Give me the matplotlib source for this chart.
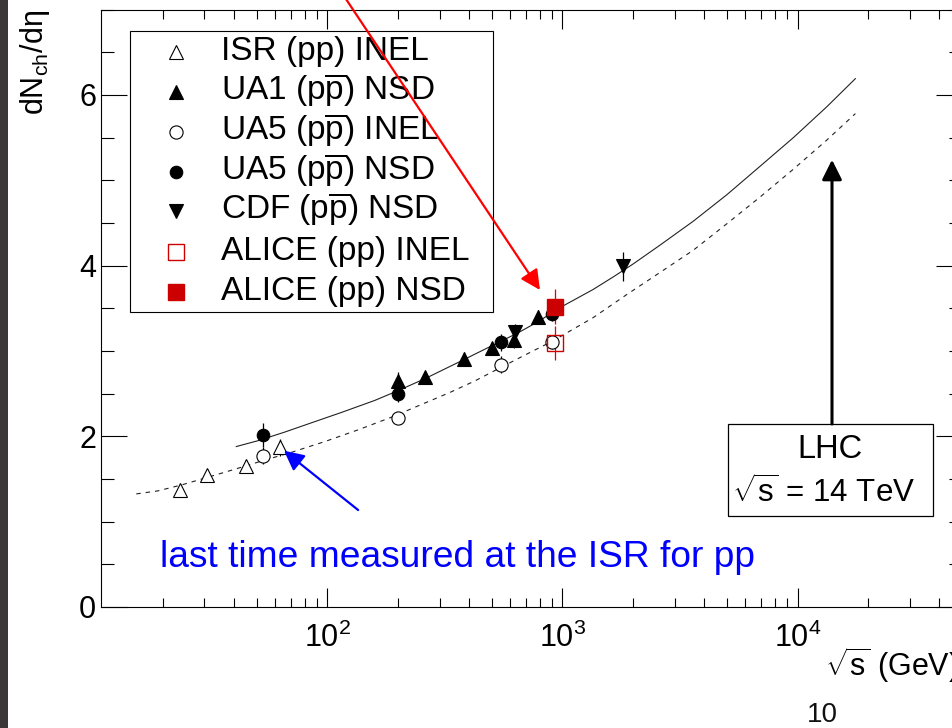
import matplotlib
matplotlib.use("Agg")
import matplotlib.pyplot as plt
from matplotlib.lines import Line2D
from matplotlib.patches import Rectangle
from matplotlib.ticker import LogLocator, MultipleLocator, FixedLocator, NullFormatter, LogFormatterMathtext

plt.rcParams['font.family'] = ['Liberation Sans', 'DejaVu Sans']
plt.rcParams['mathtext.fontset'] = 'custom'
plt.rcParams['mathtext.rm'] = 'Liberation Sans'
plt.rcParams['mathtext.it'] = 'Liberation Sans:italic'
plt.rcParams['mathtext.bf'] = 'Liberation Sans:bold'

# ---------------- data ----------------
isr_x = [23.6, 30.8, 45.2, 62.8]
isr_y = [1.37, 1.55, 1.65, 1.87]
isr_e = [0.07, 0.06, 0.07, 0.10]

ua1_x = [200, 260, 380, 500, 620, 790]
ua1_y = [2.65, 2.69, 2.91, 3.03, 3.13, 3.40]
ua1_e = [0.10, 0.08, 0.08, 0.08, 0.10, 0.08]

ua5_inel_x = [53, 200, 546, 900]
ua5_inel_y = [1.77, 2.22, 2.84, 3.10]
ua5_inel_e = [0.10, 0.06, 0.10, 0.08]

ua5_nsd_x = [53, 200, 546, 900]
ua5_nsd_y = [2.01, 2.50, 3.10, 3.43]
ua5_nsd_e = [0.14, 0.10, 0.10, 0.08]

cdf_x = [630, 1800]
cdf_y = [3.22, 3.99]
cdf_e = [0.10, 0.17]

alice_inel_x = [930]
alice_inel_y = [3.09]
alice_inel_e = [0.20]

alice_nsd_x = [930]
alice_nsd_y = [3.52]
alice_nsd_e = [0.21]

# NSD curve (solid)
nsd_curve_x = [41, 51, 66, 86, 115, 159, 200, 260, 360, 500, 650, 790, 930, 1010,
               1350, 1650, 2000, 2600, 3600, 5000, 6900, 9600, 13300, 17600]
nsd_curve_y = [1.88, 1.95, 2.05, 2.16, 2.28, 2.42, 2.535, 2.675, 2.865, 3.06, 3.215, 3.345, 3.47, 3.53,
               3.72, 3.87, 4.02, 4.24, 4.52, 4.83, 5.16, 5.50, 5.86, 6.19]
# INEL curve (dashed)
inel_curve_x = [15.4, 19, 24, 31, 40, 54, 70, 98, 135, 188, 260, 330, 425, 550, 690, 900,
                1350, 1875, 2600, 3600, 5000, 6900, 9600, 13300, 17600]
inel_curve_y = [1.325, 1.36, 1.43, 1.52, 1.61, 1.72, 1.81, 1.94, 2.075, 2.225, 2.39, 2.51, 2.65, 2.81, 2.95, 3.11,
                3.39, 3.66, 3.92, 4.18, 4.49, 4.80, 5.13, 5.47, 5.78]

legend_labels = ['ISR (pp) INEL',
                 r'UA1 (p$\overline{\mathrm{p}}$) NSD',
                 r'UA5 (p$\overline{\mathrm{p}}$) INEL',
                 r'UA5 (p$\overline{\mathrm{p}}$) NSD',
                 r'CDF (p$\overline{\mathrm{p}}$) NSD',
                 'ALICE (pp) INEL',
                 'ALICE (pp) NSD']

y_ticks = [0, 2, 4, 6]
lhc_energy = 14000

# ---------------- figure ----------------
W, H = 953, 728
fig = plt.figure(figsize=(W / 100, H / 100), dpi=100)
fig.patch.set_facecolor('white')


def fx(px):
    return px / W


def fy(py):
    return 1 - py / H


FT = fig.transFigure

# dark strip on the left (slide background)
fig.add_artist(Rectangle((0, 0), fx(8.5), 1, transform=FT,
                         facecolor='#3b3738', edgecolor='none', zorder=0))

ax = fig.add_axes([fx(101), fy(607), (962 - 101) / W, (607 - 9.5) / H])
ax.set_xscale('log')
ax.set_xlim(10.9, 5.0e4)
ax.set_ylim(0, 7)

RED = '#cc0000'
styles = [
    dict(marker='^', mfc='white', mec='black', ms=10.5, mew=0.8),
    dict(marker='^', mfc='black', mec='black', ms=9.5, mew=0.8),
    dict(marker='o', mfc='white', mec='black', ms=9.5, mew=0.8),
    dict(marker='o', mfc='black', mec='black', ms=9, mew=0.8),
    dict(marker='v', mfc='black', mec='black', ms=10, mew=0.8),
    dict(marker='s', mfc='none', mec=RED, ms=11.5, mew=1.0),
    dict(marker='s', mfc=RED, mec=RED, ms=11.5, mew=1.0),
]

# curves
ax.plot(nsd_curve_x, nsd_curve_y, color='#222222', lw=0.8, zorder=2)
ax.plot(inel_curve_x, inel_curve_y, color='#222222', lw=0.8, ls=(0, (4, 4.5)), zorder=2)

series = [
    (isr_x, isr_y, isr_e, 'black'),
    (ua1_x, ua1_y, ua1_e, 'black'),
    (ua5_inel_x, ua5_inel_y, ua5_inel_e, 'black'),
    (ua5_nsd_x, ua5_nsd_y, ua5_nsd_e, 'black'),
    (cdf_x, cdf_y, cdf_e, 'black'),
    (alice_inel_x, alice_inel_y, alice_inel_e, '#e00000'),
    (alice_nsd_x, alice_nsd_y, alice_nsd_e, '#e00000'),
]
for (xs, ys, es, ec), st in zip(series, styles):
    ax.errorbar(xs, ys, yerr=es, fmt='none', ecolor=ec, elinewidth=0.9, capsize=0, zorder=2.5)
    ax.plot(xs, ys, ls='none', zorder=3, **st)

# axes styling
for sp in ax.spines.values():
    sp.set_linewidth(0.8)
    sp.set_color('black')
ax.xaxis.set_major_locator(LogLocator(base=10, numticks=10))
ax.xaxis.set_minor_locator(LogLocator(base=10, subs=range(2, 10), numticks=50))
ax.xaxis.set_major_formatter(LogFormatterMathtext())
ax.xaxis.set_minor_formatter(NullFormatter())
ax.yaxis.set_major_locator(FixedLocator(y_ticks))
ax.yaxis.set_minor_locator(MultipleLocator(0.5))
ax.tick_params(which='both', direction='in', top=True, right=True, width=0.8, color='black')
ax.tick_params(axis='x', which='major', length=13.7, pad=11.5, labelsize=22)
ax.tick_params(axis='x', which='minor', length=6.5)
ax.tick_params(axis='y', which='major', length=18.7, pad=3.5, labelsize=22)
ax.tick_params(axis='y', which='minor', length=9.4)

# axis titles (the reference slide crops the closing parenthesis at the edge)
fig.text(fx(825), fy(676), r'$\sqrt{\mathrm{s}}$ (GeV)', fontsize=22, ha='left', va='baseline')
fig.text(fx(35), fy(10), r'dN$_{\mathrm{ch}}$/dη', fontsize=22, rotation=90,
         ha='center', va='top')

# legend (drawn by hand inside the axes so the red arrow can pass over it)
ax.add_patch(Rectangle((fx(130), fy(312)), (493 - 130) / W, (312 - 31) / H,
                       transform=FT, facecolor='white', edgecolor='black',
                       lw=0.8, zorder=4, clip_on=False))
rows = [51.7, 91.7, 131.7, 172.0, 211.0, 251.7, 291.7]
for lab, st, ry in zip(legend_labels, styles, rows):
    ax.add_line(Line2D([fx(176)], [fy(ry)], transform=FT, ls='none',
                       zorder=5, clip_on=False, **st))
    ax.text(fx(221.5), fy(ry + 8), lab, transform=FT, fontsize=24, ha='left',
            va='baseline', zorder=5, clip_on=False)

# LHC box + arrow
ax.add_patch(Rectangle((fx(727.5), fy(516)), (933.3 - 727.5) / W, (516 - 424) / H,
                       transform=FT, facecolor='white', edgecolor='black',
                       lw=0.9, zorder=4, clip_on=False))
ax.text(fx(830), fy(458.3), 'LHC', transform=FT, fontsize=23.5, ha='center',
        va='baseline', zorder=5)
ax.text(fx(732), fy(503.3), r'$\sqrt{\mathrm{s}}$ = 14 TeV', transform=FT, fontsize=22.5,
        ha='left', va='baseline', zorder=5)
ax.annotate('', xy=(lhc_energy, 5.24), xytext=(lhc_energy, 2.144),
            arrowprops=dict(arrowstyle='-|>,head_length=0.4,head_width=0.2',
                            mutation_scale=30, lw=2.2, color='black',
                            shrinkA=0, shrinkB=0), zorder=6)

# red arrow pointing to ALICE (drawn over the legend)
ax.annotate('', xy=(802, 3.714), xytext=(108.7, 7.3),
            arrowprops=dict(arrowstyle='-|>,head_length=0.4,head_width=0.2',
                            mutation_scale=30, lw=1.6, color='#ff0000',
                            shrinkA=0, shrinkB=0), annotation_clip=False, zorder=6)

# blue arrow + note
ax.annotate('', xy=(65.4, 1.831), xytext=(135.2, 1.136),
            arrowprops=dict(arrowstyle='-|>,head_length=0.4,head_width=0.2',
                            mutation_scale=30, lw=1.6, color='#0000ff',
                            shrinkA=0, shrinkB=0), zorder=6)
fig.text(fx(160), fy(566.7), 'last time measured at the ISR for pp', fontsize=26.7,
         color='#0000ff', ha='left', va='baseline')

# slide page number
fig.text(fx(822), fy(715), '10', fontsize=20, ha='center', va='center', color='#111111')

fig.savefig('out.png', dpi=100)
